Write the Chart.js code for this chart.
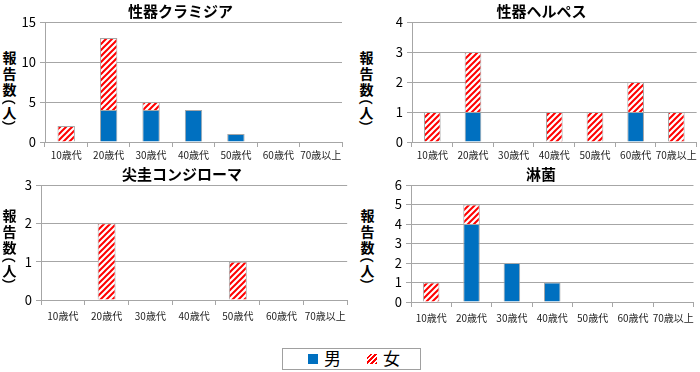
<!DOCTYPE html>
<html>
<head>
<meta charset="utf-8">
<script src="https://cdn.jsdelivr.net/npm/chart.js@4"></script>
<style>
  body { margin: 0; background: #fff; font-family: "Noto Sans CJK JP", sans-serif; }
  #wrap { position: relative; width: 700px; height: 372px; }
  .box { position: absolute; }
  .ytitle { position: absolute; width: 15px; font-size: 14px; font-weight: bold; color: #000; }
  .ytitle span { display: block; height: 16px; line-height: 16px; text-align: center; }
  .ytitle span.po, .ytitle span.pc { height: 7px; }
  .ytitle i { display: block; position: relative; font-style: normal; width: 15px; height: 14px; line-height: 14px; text-align: center; transform: rotate(90deg); }
  .ytitle .po i { top: -6px; }
  .ytitle .pc i { top: 0px; }
  #legend { position: absolute; left: 282px; top: 348px; width: 137px; height: 20px; border: 1px solid #a0a0a0; font-size: 17px; }
  .sw { position: absolute; top: 5px; width: 10px; height: 10px; }
  .lt { position: absolute; top: -1px; line-height: 20px; }
</style>
</head>
<body>
<div id="wrap">
  <div class="box" style="left:19px;top:0;width:325px;height:163px"><canvas id="c1"></canvas></div>
  <div class="box" style="left:386px;top:0;width:313px;height:163px"><canvas id="c2"></canvas></div>
  <div class="box" style="left:15px;top:163px;width:336px;height:164px"><canvas id="c3"></canvas></div>
  <div class="box" style="left:385px;top:163px;width:314px;height:166px"><canvas id="c4"></canvas></div>
  <div class="ytitle" style="left:2px;top:49px"><span>報</span><span>告</span><span>数</span><span class="po"><i>（</i></span><span>人</span><span class="pc"><i>）</i></span></div>
  <div class="ytitle" style="left:359px;top:49px"><span>報</span><span>告</span><span>数</span><span class="po"><i>（</i></span><span>人</span><span class="pc"><i>）</i></span></div>
  <div class="ytitle" style="left:2px;top:207px"><span>報</span><span>告</span><span>数</span><span class="po"><i>（</i></span><span>人</span><span class="pc"><i>）</i></span></div>
  <div class="ytitle" style="left:360px;top:207px"><span>報</span><span>告</span><span>数</span><span class="po"><i>（</i></span><span>人</span><span class="pc"><i>）</i></span></div>
  <div id="legend">
    <div class="sw" style="left:25px;background:#0070C0"></div>
    <div class="lt" style="left:41px">男</div>
    <div class="sw" style="left:84px;background:repeating-linear-gradient(-45deg,#ff0000 0 1.5px,#fff 1.5px 3.5px)"></div>
    <div class="lt" style="left:100px">女</div>
  </div>
</div>
<script>
const ages = ['10歳代', '20歳代', '30歳代', '40歳代', '50歳代', '60歳代', '70歳以上'];

const chlamydiaMale = [0, 4, 4, 4, 1, 0, 0];
const chlamydiaFemale = [2, 9, 1, 0, 0, 0, 0];
const herpesMale = [0, 1, 0, 0, 0, 1, 0];
const herpesFemale = [1, 2, 0, 1, 1, 1, 1];
const condylomaMale = [0, 0, 0, 0, 0, 0, 0];
const condylomaFemale = [0, 2, 0, 0, 1, 0, 0];
const gonorrheaMale = [0, 4, 2, 1, 0, 0, 0];
const gonorrheaFemale = [1, 1, 0, 0, 0, 0, 0];

function hatch() {
    const c = document.createElement('canvas');
    c.width = 6; c.height = 6;
    const g = c.getContext('2d');
    g.fillStyle = '#fff';
    g.fillRect(0, 0, 6, 6);
    g.strokeStyle = '#ff0000';
    g.lineWidth = 2;
    g.beginPath();
    g.moveTo(-1, 7); g.lineTo(7, -1);
    g.moveTo(-4, 4); g.lineTo(4, -4);
    g.moveTo(2, 10); g.lineTo(10, 2);
    g.stroke();
    return g.createPattern(c, 'repeat');
}

function makeChart(id, title, male, female, max, step, labelPad) {
    return new Chart(document.getElementById(id), {
        type: 'bar',
        data: {
            labels: ages,
            datasets: [
                { label: '男', data: male, backgroundColor: '#0070C0', borderColor: '#a6a6a6', borderWidth: 1 },
                { label: '女', data: female, backgroundColor: hatch(), borderColor: '#a6a6a6', borderWidth: 1 }
            ]
        },
        options: {
            responsive: true,
            maintainAspectRatio: false,
            animation: false,
            layout: { padding: { left: 0, right: 2, top: 0, bottom: 0 } },
            datasets: { bar: { categoryPercentage: 1, barPercentage: 0.41 } },
            scales: {
                x: {
                    stacked: true,
                    grid: { offset: true, drawOnChartArea: false, drawTicks: true, tickLength: 5, color: '#a6a6a6' },
                    border: { color: '#a6a6a6' },
                    ticks: { color: '#222', font: { size: 10, family: 'Noto Sans CJK JP' }, maxRotation: 0, autoSkip: false, padding: labelPad }
                },
                y: {
                    stacked: true,
                    min: 0,
                    max: max,
                    afterFit: function (scale) { scale.width = 26; },
                    grid: { color: '#a6a6a6', tickLength: 5 },
                    border: { color: '#a6a6a6' },
                    ticks: { stepSize: step, color: '#000', font: { size: 13, family: 'Noto Sans CJK JP' }, padding: 4 }
                }
            },
            plugins: {
                legend: { display: false },
                tooltip: { enabled: false },
                title: {
                    display: true,
                    text: title,
                    color: '#000',
                    font: { size: 15, weight: 'bold', family: 'Noto Sans CJK JP' },
                    padding: { top: 2, bottom: 2 }
                }
            }
        }
    });
}

makeChart('c1', '性器クラミジア', chlamydiaMale, chlamydiaFemale, 15, 5, 2);
makeChart('c2', '性器ヘルペス', herpesMale, herpesFemale, 4, 1, 2);
makeChart('c3', '尖圭コンジローマ', condylomaMale, condylomaFemale, 3, 1, 5);
makeChart('c4', '淋菌', gonorrheaMale, gonorrheaFemale, 6, 1, 5);
</script>
</body>
</html>
